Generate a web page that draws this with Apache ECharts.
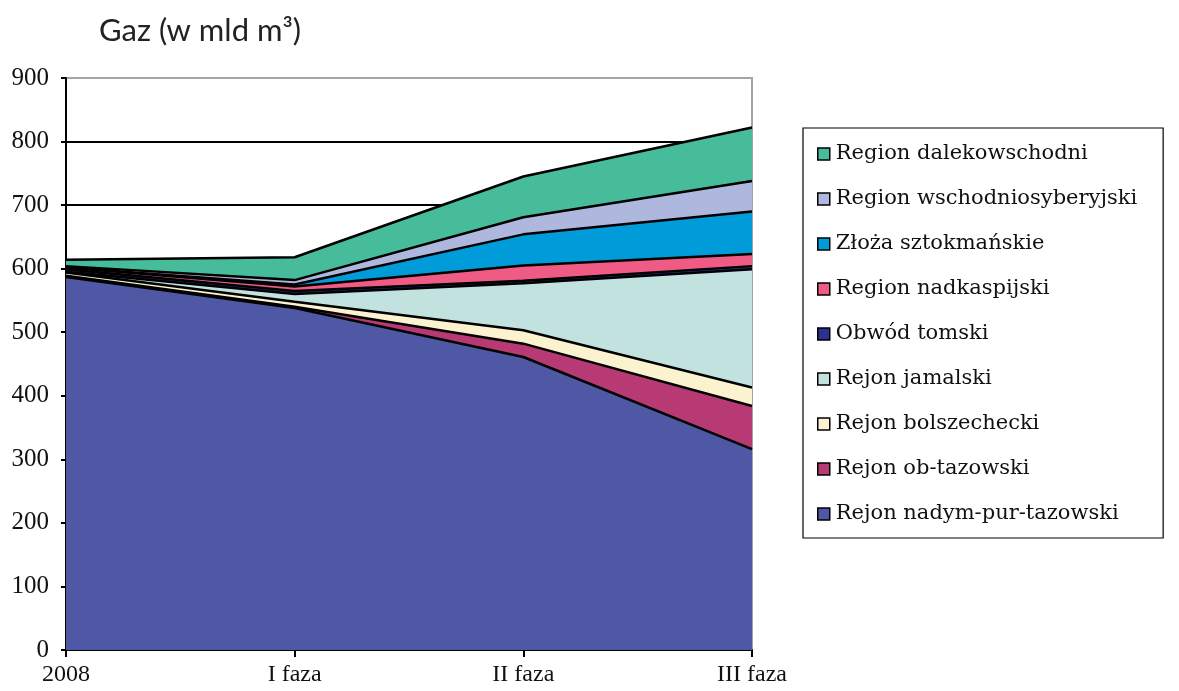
<!DOCTYPE html>
<html><head><meta charset="utf-8">
<script src="https://cdn.jsdelivr.net/npm/echarts@6/dist/echarts.min.js"></script>
<style>html,body{margin:0;padding:0;background:#fff}#c{width:1179px;height:691px}</style>
</head><body><div id="c"></div>
<script>
const categories = ['2008', 'I faza', 'II faza', 'III faza'];
const yTicks = { min: 0, max: 900, interval: 100 };
const titleText = 'Gaz (w mld m³)';
// bottom -> top stacking order
const seriesNames = ['Rejon nadym-pur-tazowski', 'Rejon ob-tazowski', 'Rejon bolszechecki', 'Rejon jamalski',
  'Obwód tomski', 'Region nadkaspijski', 'Złoża sztokmańskie', 'Region wschodniosyberyjski', 'Region dalekowschodni'];
const nadym = [587, 538, 461, 316];
const obTazowski = [2, 2, 21, 68];
const bolszechecki = [5, 8, 21, 29];
const jamalski = [1, 12, 74, 186];
const tomski = [4, 5, 4, 5];
const nadkaspijski = [3, 7, 24, 19];
const sztokman = [0, 3, 49, 67];
const wschodnio = [2, 7, 27, 48];
const dalekowschodni = [10, 36, 64, 84];
const seriesValues = [nadym, obTazowski, bolszechecki, jamalski, tomski, nadkaspijski, sztokman, wschodnio, dalekowschodni];
const colors = ['#4F58A5', '#B73A74', '#FBF3CF', '#C2E2E0', '#2A3190', '#EF5B84', '#009BD9', '#AEB8DF', '#47BC9B'];

const chart = echarts.init(document.getElementById('c'), null, { renderer: 'canvas' });
const series = seriesNames.map((name, i) => ({
  name, type: 'line', stack: 'total', data: seriesValues[i],
  symbol: 'none', smooth: false,
  z: 20 - i,
  lineStyle: { color: '#000', width: 2.5 },
  itemStyle: { color: colors[i], borderColor: '#000', borderWidth: 1.5 },
  areaStyle: { color: colors[i], opacity: 1 }
}));
chart.setOption({
  animation: false,
  backgroundColor: '#fff',
  title: { text: titleText, left: 94, top: 10, textStyle: { fontFamily: 'Lato', fontWeight: 'normal', fontSize: 31, color: '#222' } },
  grid: { left: 66, right: 427, top: 78, bottom: 41, show: true, borderColor: '#a6a6a6', borderWidth: 2, backgroundColor: 'transparent' },
  legend: {
    orient: 'vertical', left: 803, top: 128,
    data: seriesNames.slice().reverse(),
    icon: 'rect', itemWidth: 12, itemHeight: 12, itemGap: 21,
    padding: [14, 26, 12, 14],
    borderColor: '#000', borderWidth: 1.2,
    itemStyle: { borderColor: '#000', borderWidth: 1.5 },
    textStyle: { fontFamily: 'DejaVu Serif', fontSize: 21, color: '#111', lineHeight: 24, padding: [0, 0, 0, 1] }
  },
  xAxis: {
    type: 'category', data: categories, boundaryGap: false,
    axisLine: { lineStyle: { color: '#000', width: 2 } },
    axisTick: { show: true, length: 7, lineStyle: { color: '#000', width: 2 } },
    axisLabel: { fontFamily: 'Liberation Serif', fontSize: 24, color: '#111', margin: 13 },
    splitLine: { show: false }
  },
  yAxis: {
    type: 'value', min: yTicks.min, max: yTicks.max, interval: yTicks.interval,
    axisLine: { show: true, lineStyle: { color: '#000', width: 2 } },
    axisTick: { show: true, length: 5, lineStyle: { color: '#000', width: 2 } },
    axisLabel: { fontFamily: 'Liberation Serif', fontSize: 25, color: '#111', margin: 17 },
    splitLine: { show: true, showMaxLine: false, lineStyle: { color: '#000', width: 2 } }
  },
  series
});
</script></body></html>
